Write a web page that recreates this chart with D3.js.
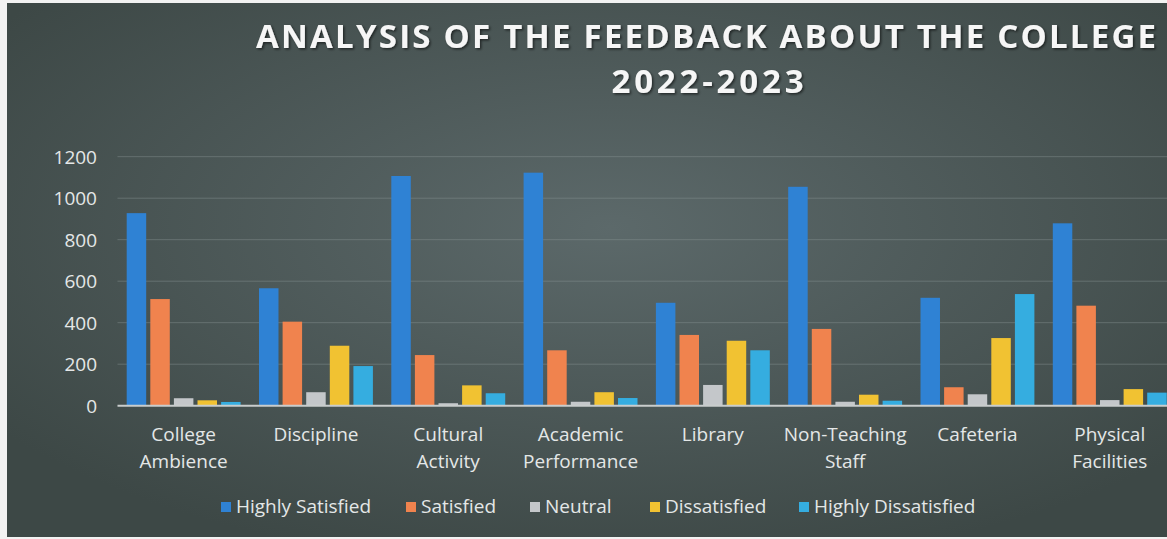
<!DOCTYPE html>
<html>
<head>
<meta charset="utf-8">
<script src="https://cdn.jsdelivr.net/npm/d3@7"></script>
<style>
  html, body { margin: 0; padding: 0; background: #ffffff; overflow: hidden; }
  svg { display: block; }
</style>
</head>
<body>
<svg id="chart" width="1167" height="539"></svg>
<script>
// ---- Data ----
const categories = ["College\nAmbience", "Discipline", "Cultural\nActivity", "Academic\nPerformance",
                    "Library", "Non-Teaching\nStaff", "Cafeteria", "Physical\nFacilities"];
const seriesNames = ["Highly Satisfied", "Satisfied", "Neutral", "Dissatisfied", "Highly Dissatisfied"];
const highlySatisfied    = [928, 566, 1107, 1123, 496, 1055, 520, 879];
const satisfied          = [514, 405, 244, 267, 341, 370, 89, 482];
const neutral            = [36, 65, 12, 19, 100, 19, 55, 27];
const dissatisfied       = [26, 289, 98, 65, 313, 53, 326, 80];
const highlyDissatisfied = [18, 191, 60, 37, 267, 24, 538, 63];
const yTicks = [0, 200, 400, 600, 800, 1000, 1200];
const titleLine1 = "ANALYSIS OF THE FEEDBACK ABOUT THE COLLEGE";
const titleLine2 = "2022-2023";

const seriesValues = [highlySatisfied, satisfied, neutral, dissatisfied, highlyDissatisfied];
const colors = ["#2f82d4", "#f0834e", "#c4c7ca", "#f1c232", "#35ade0"];

const W = 1167, H = 539;
const svg = d3.select("#chart");
const defs = svg.append("defs");

// background gradient
const grad = defs.append("radialGradient").attr("id", "bg")
  .attr("cx", "52%").attr("cy", "42%").attr("r", "65%");
grad.append("stop").attr("offset", "0%").attr("stop-color", "#5c696a");
grad.append("stop").attr("offset", "100%").attr("stop-color", "#3d4846");

const shadow = defs.append("filter").attr("id", "shadow").attr("x", "-5%").attr("y", "-30%")
  .attr("width", "110%").attr("height", "160%");
shadow.append("feDropShadow").attr("dx", 1.5).attr("dy", 1.5).attr("stdDeviation", 1.2)
  .attr("flood-color", "#000").attr("flood-opacity", 0.55);

svg.append("rect").attr("x", 0).attr("y", 0).attr("width", W).attr("height", H).attr("fill", "#f2f2f2");
svg.append("rect").attr("x", 7).attr("y", 3).attr("width", W - 7).attr("height", H - 5).attr("fill", "url(#bg)");

// ---- Scales ----
const plotLeft = 117.5, plotRight = 1175.9;
const y = d3.scaleLinear().domain([0, 1200]).range([405.7, 156.7]);
const x0 = d3.scaleBand().domain(d3.range(categories.length)).range([plotLeft, plotRight])
  .paddingInner(0.139).paddingOuter(0.0695);
const x1 = d3.scaleBand().domain(d3.range(seriesNames.length)).range([0, x0.bandwidth()])
  .paddingInner(0.174).paddingOuter(0);

// gridlines
const gridG = svg.append("g");
gridG.selectAll("line").data(yTicks.filter(d => d > 0)).join("line")
  .attr("x1", plotLeft).attr("x2", W)
  .attr("y1", d => y(d)).attr("y2", d => y(d))
  .attr("stroke", "#8a9494").attr("stroke-opacity", 0.45).attr("stroke-width", 1);

// y axis labels using d3 axis
const yAxis = d3.axisLeft(y).tickValues(yTicks).tickFormat(d3.format("d")).tickSize(0).tickPadding(0);
const yG = svg.append("g").attr("transform", "translate(97,0)").call(yAxis);
yG.select(".domain").remove();
yG.selectAll("text").attr("font-family", "'Open Sans', sans-serif").attr("font-size", 19)
  .attr("fill", "#e4e7e7").attr("dy", "0.34em");

// bars
const groups = svg.append("g").selectAll("g").data(categories.map((c, i) => i)).join("g")
  .attr("transform", i => `translate(${x0(i)},0)`);
groups.selectAll("rect").data(i => seriesValues.map((s, k) => ({ k, v: s[i] }))).join("rect")
  .attr("x", d => x1(d.k)).attr("width", x1.bandwidth())
  .attr("y", d => y(d.v)).attr("height", d => y(0) - y(d.v))
  .attr("fill", d => colors[d.k]);

// baseline
svg.append("line").attr("x1", plotLeft).attr("x2", W).attr("y1", y(0)).attr("y2", y(0))
  .attr("stroke", "#c9cdcd").attr("stroke-width", 2);

// category labels
const catG = svg.append("g");
categories.forEach((c, i) => {
  const lines = c.split("\n");
  const t = catG.append("text").attr("text-anchor", "middle")
    .attr("font-family", "'Open Sans', sans-serif").attr("font-size", 19).attr("fill", "#e4e7e7");
  lines.forEach((ln, j) => {
    t.append("tspan").attr("x", x0(i) + x0.bandwidth() / 2).attr("y", 441 + j * 27).text(ln);
  });
});

// title
svg.append("text").attr("x", 706).attr("y", 48).attr("text-anchor", "middle")
  .attr("font-family", "'Open Sans', sans-serif").attr("font-weight", "bold").attr("font-size", 33)
  .attr("fill", "#f6f6f6").attr("filter", "url(#shadow)")
  .attr("textLength", 900).attr("lengthAdjust", "spacing").text(titleLine1);
svg.append("text").attr("x", 707.5).attr("y", 93).attr("text-anchor", "middle")
  .attr("font-family", "'Open Sans', sans-serif").attr("font-weight", "bold").attr("font-size", 33)
  .attr("fill", "#f6f6f6").attr("filter", "url(#shadow)")
  .attr("textLength", 192).attr("lengthAdjust", "spacing").text(titleLine2);

// legend
const legendX = [221, 406, 530, 650, 799];
const legG = svg.append("g");
seriesNames.forEach((n, k) => {
  legG.append("rect").attr("x", legendX[k]).attr("y", 502).attr("width", 10).attr("height", 10)
    .attr("fill", colors[k]);
  legG.append("text").attr("x", legendX[k] + 15).attr("y", 513)
    .attr("font-family", "'Open Sans', sans-serif").attr("font-size", 19).attr("fill", "#e4e7e7")
    .text(n);
});
</script>
</body>
</html>
